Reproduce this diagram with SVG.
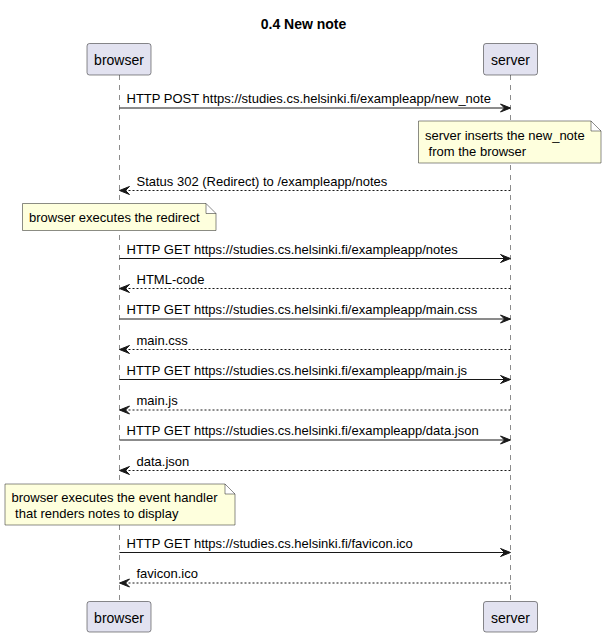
<svg xmlns="http://www.w3.org/2000/svg" width="607" height="637" viewBox="0 0 607 637">
<style>
text{font-family:"Liberation Sans",Arial,sans-serif;fill:#000}
.title{font-size:14px;font-weight:bold}
.p{fill:#E2E2F0;stroke:#181818;stroke-width:0.5}
.pt{font-size:14px}
.life{stroke:#181818;stroke-width:0.5;stroke-dasharray:5,5;fill:none}
.msg{stroke:#181818;stroke-width:1;fill:none}
.ret{stroke:#181818;stroke-width:1;stroke-dasharray:2,2;fill:none}
.ah{fill:#181818;stroke:#181818;stroke-width:1}
.mt{font-size:13px}
.note{fill:#FEFFDD;stroke:#181818;stroke-width:0.5}
</style>
<rect width="607" height="637" fill="#FFFFFF"/>
<text class="title" x="303.5" y="29" text-anchor="middle">0.4 New note</text>

<g id="lifelines">
<line class="life" x1="119.5" y1="75" x2="119.5" y2="601.5"/>
<line class="life" x1="510.5" y1="75" x2="510.5" y2="601.5"/>
</g>

<g id="browser">
<rect class="p" x="87" y="43.5" width="64" height="31.5" rx="2.5"/>
<text class="pt" x="119" y="64.5" text-anchor="middle">browser</text>
<rect class="p" x="87" y="601.5" width="64" height="30.5" rx="2.5"/>
<text class="pt" x="119" y="622.5" text-anchor="middle">browser</text>
</g>
<g id="server">
<rect class="p" x="483.5" y="43.5" width="54" height="31.5" rx="2.5"/>
<text class="pt" x="510.5" y="64.5" text-anchor="middle">server</text>
<rect class="p" x="483.5" y="601.5" width="54" height="30.5" rx="2.5"/>
<text class="pt" x="510.5" y="622.5" text-anchor="middle">server</text>
</g>

<g id="note1">
<path class="note" d="M418.5,121 L591,121 L601,131 L601,163 L418.5,163 Z M591,121 L591,131 L601,131"/>
<text class="mt" x="425" y="139.5">server inserts the new_note</text>
<text class="mt" x="425" y="155.5" xml:space="preserve"> from the browser</text>
</g>
<g id="note2">
<path class="note" d="M22.5,203.5 L206,203.5 L216,213.5 L216,230.5 L22.5,230.5 Z M206,203.5 L206,213.5 L216,213.5"/>
<text class="mt" x="29" y="222">browser executes the redirect</text>
</g>
<g id="note3">
<path class="note" d="M5,484 L225,484 L235,494 L235,525 L5,525 Z M225,484 L225,494 L235,494"/>
<text class="mt" x="11.5" y="501.5">browser executes the event handler</text>
<text class="mt" x="11.5" y="517.5" xml:space="preserve"> that renders notes to display</text>
</g>

<g id="connectors">
<line class="msg" x1="119.5" y1="108" x2="509.5" y2="108"/>
<polygon class="ah" points="500.5,104 510.5,108 500.5,112 504.5,108"/>
<text class="mt" x="126.5" y="103">HTTP POST https://studies.cs.helsinki.fi/exampleapp/new_note</text>

<line class="ret" x1="120.5" y1="190.5" x2="510.5" y2="190.5"/>
<polygon class="ah" points="129.5,186.5 119.5,190.5 129.5,194.5 125.5,190.5"/>
<text class="mt" x="136.5" y="185.5">Status 302 (Redirect) to /exampleapp/notes</text>

<line class="msg" x1="119.5" y1="258.5" x2="509.5" y2="258.5"/>
<polygon class="ah" points="500.5,254.5 510.5,258.5 500.5,262.5 504.5,258.5"/>
<text class="mt" x="126.5" y="253.5">HTTP GET https://studies.cs.helsinki.fi/exampleapp/notes</text>

<line class="ret" x1="120.5" y1="288.5" x2="510.5" y2="288.5"/>
<polygon class="ah" points="129.5,284.5 119.5,288.5 129.5,292.5 125.5,288.5"/>
<text class="mt" x="136.5" y="283.5">HTML-code</text>

<line class="msg" x1="119.5" y1="319" x2="509.5" y2="319"/>
<polygon class="ah" points="500.5,315 510.5,319 500.5,323 504.5,319"/>
<text class="mt" x="126.5" y="314">HTTP GET https://studies.cs.helsinki.fi/exampleapp/main.css</text>

<line class="ret" x1="120.5" y1="349.5" x2="510.5" y2="349.5"/>
<polygon class="ah" points="129.5,345.5 119.5,349.5 129.5,353.5 125.5,349.5"/>
<text class="mt" x="136.5" y="344.5">main.css</text>

<line class="msg" x1="119.5" y1="379.5" x2="509.5" y2="379.5"/>
<polygon class="ah" points="500.5,375.5 510.5,379.5 500.5,383.5 504.5,379.5"/>
<text class="mt" x="126.5" y="374.5">HTTP GET https://studies.cs.helsinki.fi/exampleapp/main.js</text>

<line class="ret" x1="120.5" y1="410" x2="510.5" y2="410"/>
<polygon class="ah" points="129.5,406 119.5,410 129.5,414 125.5,410"/>
<text class="mt" x="136.5" y="405">main.js</text>

<line class="msg" x1="119.5" y1="440" x2="509.5" y2="440"/>
<polygon class="ah" points="500.5,436 510.5,440 500.5,444 504.5,440"/>
<text class="mt" x="126.5" y="435">HTTP GET https://studies.cs.helsinki.fi/exampleapp/data.json</text>

<line class="ret" x1="120.5" y1="470.5" x2="510.5" y2="470.5"/>
<polygon class="ah" points="129.5,466.5 119.5,470.5 129.5,474.5 125.5,470.5"/>
<text class="mt" x="136.5" y="465.5">data.json</text>

<line class="msg" x1="119.5" y1="552.5" x2="509.5" y2="552.5"/>
<polygon class="ah" points="500.5,548.5 510.5,552.5 500.5,556.5 504.5,552.5"/>
<text class="mt" x="126.5" y="547.5">HTTP GET https://studies.cs.helsinki.fi/favicon.ico</text>

<line class="ret" x1="120.5" y1="583" x2="510.5" y2="583"/>
<polygon class="ah" points="129.5,579 119.5,583 129.5,587 125.5,583"/>
<text class="mt" x="136.5" y="578">favicon.ico</text>
</g>
</svg>
